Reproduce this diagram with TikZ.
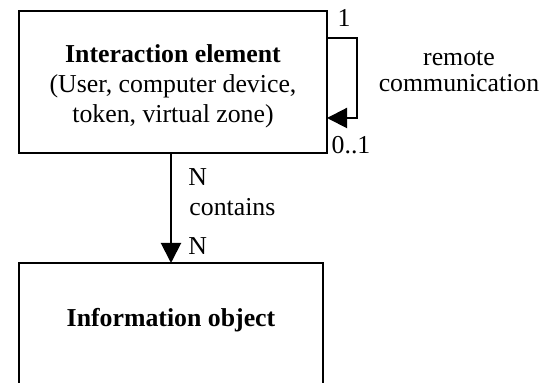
\documentclass[tikz,border=0pt]{standalone}
\usepackage{fontspec}
\setmainfont{Liberation Serif}
\usetikzlibrary{arrows.meta}
\begin{document}
\begin{tikzpicture}[x=0.5pt,y=-0.5pt,
  box/.style={draw, line width=1pt, inner sep=0pt, outer sep=0pt, anchor=north west},
  lbl/.style={font=\fontsize{12.9}{15}\selectfont, inner sep=0pt, anchor=base},
  arr/.style={line width=1pt, -{Triangle[length=10pt,width=10pt]}}]
\useasboundingbox (0,0) rectangle (553,383);
\clip (0,0) rectangle (553,383);
\node[box, minimum width=154pt, minimum height=71pt] (ie) at (19,11) {};
\node[box, minimum width=152pt, minimum height=70pt] (io) at (19,263) {};
\coordinate (lo1) at (357,38);
\coordinate (lo2) at (357,118);
\draw[arr] (ie.east |- lo1) -- (lo1) -- (lo2) -- (ie.east |- lo2);
\draw[arr] (io.north |- ie.south) -- (io.north);
\node[lbl] (t1) at (173,63) {\bfseries Interaction element};
\node[lbl] (t2) at (173,93) {(User, computer device,};
\node[lbl] (t3) at (173,123) {token, virtual zone)};
\node[lbl] (one) at (344,27) {1};
\node[lbl] (zo) at (351,154) {0..1};
\node[lbl] (rm) at (459,66) {remote};
\node[lbl] (cm) at (459,92) {communication};
\node[lbl, anchor=base west] (n1) at (188,186) {N};
\node[lbl, anchor=base west] (ct) at (189,216) {contains};
\node[lbl, anchor=base west] (n2) at (188,255) {N};
\node[lbl] (iot) at (171,327) {\bfseries Information object};
\end{tikzpicture}
\end{document}
